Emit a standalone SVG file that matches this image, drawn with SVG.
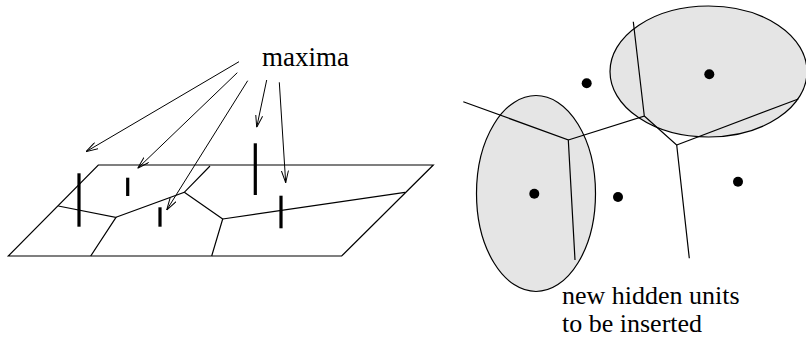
<svg xmlns="http://www.w3.org/2000/svg" width="806" height="343" viewBox="0 0 806 343">
<style>
.ln{fill:none;stroke:#000;stroke-width:1.2}
.bar{stroke:#000;stroke-width:3.2}
.arr{fill:none;stroke:#000;stroke-width:1;marker-end:url(#ah)}
.ell{fill:#e5e5e5;stroke:#000;stroke-width:1.2}
.dot{fill:#000}
.t{font-family:'Liberation Serif','Times New Roman','DejaVu Serif',serif;font-size:27px;fill:#000}
.s{font-size:26px}
</style>
<defs>
<marker id="ah" viewBox="0 0 12 8" refX="12" refY="4" markerWidth="12" markerHeight="8" markerUnits="userSpaceOnUse" orient="auto">
<path d="M0,0.5 L12,4 L0,7.5" fill="none" stroke="#000" stroke-width="1"/>
</marker>
</defs>
<g id="plane">
<polygon class="ln" points="98.3,165 433.3,165 341.7,256 8.3,256"/>
<polyline class="ln" points="58.3,206 116,217.3 90.7,256"/>
<polyline class="ln" points="116,217.3 184.3,192.3 210,166"/>
<polyline class="ln" points="184.3,192.3 222.7,219 211.7,256"/>
<polyline class="ln" points="222.7,219 405,192.3"/>
</g>
<g id="maxima-bars">
<line class="bar" x1="79" y1="173.3" x2="79" y2="226.7"/>
<line class="bar" x1="127.7" y1="177.7" x2="127.7" y2="196"/>
<line class="bar" x1="160" y1="207.3" x2="160" y2="226.7"/>
<line class="bar" x1="255.3" y1="143.3" x2="255.3" y2="195"/>
<line class="bar" x1="281" y1="195.7" x2="281" y2="228.3"/>
</g>
<g id="label-maxima"><text class="t" x="262" y="66">maxima</text></g>
<g id="connectors">
<line class="arr" x1="239" y1="61.7" x2="86" y2="151.7"/>
<line class="arr" x1="237.3" y1="72.7" x2="137.7" y2="168.3"/>
<line class="arr" x1="247.7" y1="80.7" x2="166.7" y2="210"/>
<line class="arr" x1="266.7" y1="80" x2="256.7" y2="127.3"/>
<line class="arr" x1="279.3" y1="82.3" x2="285.7" y2="182.7"/>
</g>
<g id="ellipse-right"><ellipse class="ell" cx="708.5" cy="71.5" rx="98.5" ry="65.5"/></g>
<g id="ellipse-left"><ellipse class="ell" cx="536" cy="193.5" rx="59.5" ry="98"/></g>
<g id="voronoi">
<polyline class="ln" points="463.3,101.7 568.3,140 575,260"/>
<polyline class="ln" points="568.3,140 644.3,116 633.3,21.7"/>
<polyline class="ln" points="644.3,116 676.7,145 689.3,258.3"/>
<polyline class="ln" points="676.7,145 798.3,99"/>
</g>
<g id="units">
<circle class="dot" cx="586.7" cy="83.3" r="5"/>
<circle class="dot" cx="709.3" cy="74.3" r="5"/>
<circle class="dot" cx="534.3" cy="193.7" r="5"/>
<circle class="dot" cx="618" cy="197" r="5"/>
<circle class="dot" cx="738" cy="181.7" r="5"/>
</g>
<g id="label-units">
<text class="t s" x="562" y="304">new hidden units</text>
<text class="t s" x="562" y="332">to be inserted</text>
</g>
</svg>
